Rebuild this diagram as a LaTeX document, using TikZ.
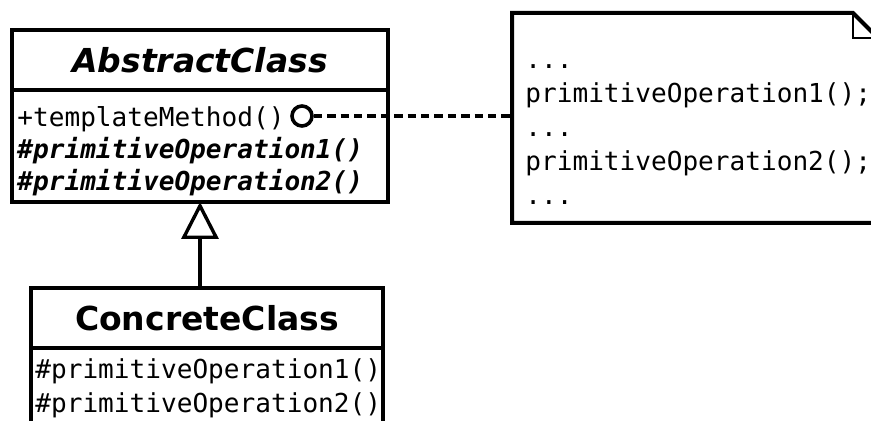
\documentclass[tikz,border=0pt]{standalone}
\usepackage{fontspec}
\newfontfamily\umlsans{DejaVu Sans}
\newfontfamily\umlmono{DejaVu Sans Mono}
\usetikzlibrary{arrows.meta,positioning}

\begin{document}
\begin{tikzpicture}[
  x=0.5pt, y=-0.5pt,
  cls/.style={draw, line width=2pt, inner sep=0pt, outer sep=0pt, minimum height=30pt},
  ttl/.style={font=\umlsans\bfseries\fontsize{16.5}{19}\selectfont},
  op/.style={anchor=base west, inner sep=0pt, font=\umlmono\fontsize{13.05}{15}\selectfont},
  absop/.style={op, font=\umlmono\bfseries\itshape\fontsize{13.05}{15}\selectfont},
  inherit/.style={-{Triangle[open, length=18.5pt, width=18.5pt]}, line width=1.7pt},
  dashline/.style={line width=1.9pt, dash pattern=on 4.2pt off 2.5pt},
  notebox/.style={line width=2pt, line join=miter},
]
\useasboundingbox (0,0) rectangle (871,421);
\clip (0,0) rectangle (871,421);

% ====== AbstractClass ======
\node[cls, ttl, font=\umlsans\bfseries\itshape\fontsize{16.5}{19}\selectfont, minimum width=188pt] (abs) at (200,60) {AbstractClass};
\node[cls, minimum width=188pt, minimum height=56pt, below=0pt of abs] (absops) {};
\node[op] (tm) at (17,127) {+templateMethod()};
\node[absop] (ap1) at (17,159) {\#primitiveOperation1()};
\node[absop] (ap2) at (17,191) {\#primitiveOperation2()};

% ====== ConcreteClass ======
\node[cls, ttl, minimum width=176pt] (conc) at (207,318) {ConcreteClass};
\node[cls, minimum width=176pt, minimum height=50pt, below=0pt of conc] (concops) {};
\node[op] (cp1) at (35,379) {\#primitiveOperation1()};
\node[op] (cp2) at (35,413) {\#primitiveOperation2()};

% ====== Generalization ======
\draw[inherit] (conc.north -| absops.south) -- (absops.south);

% ====== Note ======
\node[minimum width=183pt, minimum height=105pt, inner sep=0pt, outer sep=0pt, anchor=north west] (note) at (512,13) {};
\draw[notebox] (note.south west) -- (note.north west) -- ([xshift=-12.5pt]note.north east)
  -- ([yshift=-12.5pt]note.north east) -- (note.south east) -- cycle;
\draw[line width=0.9pt] ([xshift=-12.5pt]note.north east) |- ([yshift=-12.5pt]note.north east);
\node[op] (l1) at (525,69) {...};
\node[op] (l2) at (525,103) {primitiveOperation1();};
\node[op] (l3) at (525,137) {...};
\node[op] (l4) at (525,171) {primitiveOperation2();};
\node[op] (l5) at (525,205) {...};

% ====== Anchor to note ======
\node[circle, draw, line width=1.8pt, minimum size=10pt, inner sep=0pt] (anc) at (302,116) {};
\draw[dashline] (anc.east) -- (anc.east -| note.west);

\end{tikzpicture}
\end{document}
